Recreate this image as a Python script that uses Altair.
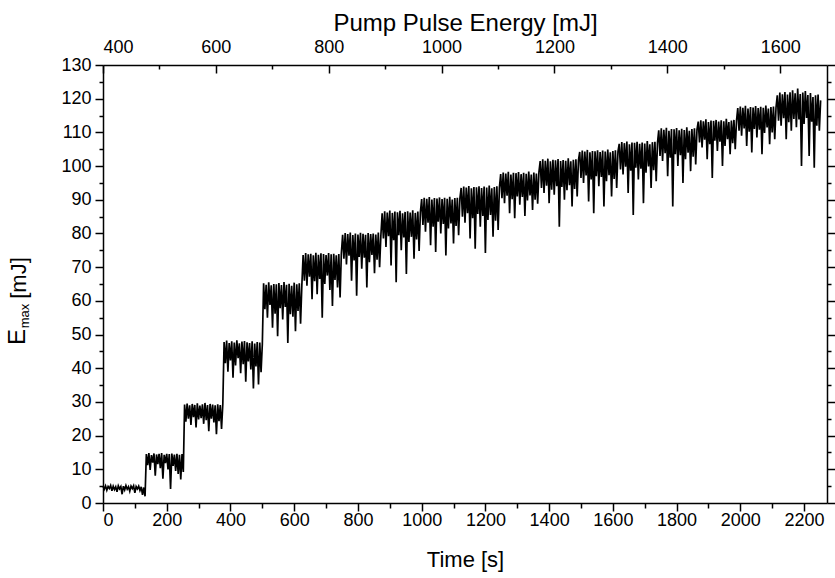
import altair as alt
import pandas as pd

# ---- data (E_max in mJ, one sample every 4 s) ----
SAMPLE_STEP_S = 4

step01 = [5.0,4.1,5.1,3.8,4.9,4.3,5.2,3.6,5.0,4.0,4.8,3.3,5.1,4.2,4.9,2.6,5.0,3.9,5.2,4.1,4.8,3.5,5.0,4.3,5.1,3.0,4.9,4.2,5.0,3.7,4.8,2.4,4.6]
step02 = [2.0,14.5,11.2,14.8,9.8,14.2,12.0,14.7,8.1,14.4,11.5,14.6,10.3,14.8,7.2,14.3,11.8,14.6,10.0,14.5,4.2,14.7,11.0,14.4,9.5,14.6,8.6,14.3,7.0,14.5,9.2]
step03 = [29.2,24.1,29.5,25.0,29.0,23.2,29.4,25.5,29.1,22.4,29.6,24.8,28.9,25.2,29.3,23.5,29.7,24.6,29.1,21.3,29.4,25.0,29.2,23.9,29.0,20.4,29.3,24.3,29.1,22.0,29.4]
step04 = [47.8,41.5,48.2,39.0,47.5,42.3,48.0,37.2,47.6,40.8,48.3,43.0,47.4,38.5,47.9,41.2,48.1,36.0,47.7,42.0,47.5,39.6,48.0,34.0,47.3,40.5,47.8,35.2,47.6,38.8,47.2]
step05 = [65.2,57.5,64.8,55.0,65.5,58.8,64.6,52.0,65.0,56.2,64.9,49.5,65.3,57.8,64.7,54.5,65.6,58.2,64.8,47.5,65.1,56.0,64.5,55.3,65.4,51.0,64.9,57.0,65.2,53.2,64.6]
step06 = [73.6,66.0,74.2,64.5,73.8,67.2,74.0,60.5,73.5,65.8,74.3,62.0,73.7,66.5,74.1,55.0,73.9,65.0,73.6,67.5,74.2,63.2,73.8,58.5,74.0,66.2,73.5,64.0,73.9,61.0,74.1]
step07 = [79.6,72.5,80.1,70.8,79.8,73.4,80.3,66.0,79.5,72.0,80.0,61.5,79.7,73.0,80.2,69.5,79.9,72.8,79.6,64.0,80.1,71.5,79.8,73.6,80.0,68.2,79.7,72.2,80.3,70.0,79.4]
step08 = [86.0,78.5,86.6,76.0,86.2,79.2,86.8,70.5,86.1,78.0,86.5,65.5,86.3,79.5,86.7,75.0,86.0,78.8,86.4,68.0,86.6,77.5,86.2,79.0,86.9,72.5,86.1,78.2,86.5,74.8,86.3]
step09 = [90.2,82.5,90.6,80.5,90.3,83.2,90.8,76.5,90.1,82.0,90.5,74.5,90.4,83.5,90.7,80.0,90.2,82.8,90.6,73.5,90.3,81.5,90.9,83.0,90.1,77.0,90.5,82.2,90.6,79.5,90.4]
step10 = [93.5,85.0,93.9,83.2,93.6,86.0,94.1,78.5,93.4,84.5,93.8,75.5,93.7,85.8,94.0,82.0,93.5,85.2,93.9,74.2,93.6,84.0,94.2,85.5,93.4,79.0,93.8,83.8,94.0,81.0,93.6]
step11 = [97.6,90.5,98.1,89.0,97.8,91.2,98.3,86.0,97.5,90.2,98.0,84.5,97.9,91.0,98.2,88.5,97.6,90.8,98.0,85.2,97.7,89.8,98.4,91.3,97.5,87.0,98.1,90.0,97.8,88.8,98.2]
step12 = [101.5,93.5,102.0,92.0,101.6,94.2,102.2,89.0,101.4,93.0,101.9,91.5,101.7,94.0,102.1,82.0,101.5,93.8,101.8,90.0,101.6,92.8,102.3,94.3,101.4,88.0,101.9,93.2,102.0,91.0,101.7]
step13 = [104.2,96.5,104.6,95.0,104.3,97.2,104.8,89.5,104.1,96.0,104.5,86.0,104.4,97.0,104.7,94.0,104.2,96.8,104.6,88.0,104.3,95.5,104.9,97.3,104.1,91.0,104.5,96.2,104.7,93.5,104.3]
step14 = [106.6,99.0,107.1,97.5,106.8,99.8,107.3,92.0,106.5,98.6,107.0,85.5,106.9,99.5,107.2,96.0,106.6,99.2,107.0,89.0,106.7,98.0,107.4,99.9,106.5,93.5,107.1,98.8,107.2,95.5,106.8]
step15 = [110.6,103.0,111.2,101.5,110.8,103.8,111.4,97.0,110.5,102.5,111.0,88.0,110.9,103.5,111.3,100.0,110.6,103.2,111.1,95.0,110.7,102.0,111.5,104.0,110.5,98.5,111.0,102.8,111.2,100.5,110.8]
step16 = [113.2,107.0,113.6,105.5,113.3,107.8,113.9,102.0,113.1,106.5,113.5,96.5,113.4,107.5,113.7,104.5,113.2,107.2,113.6,100.0,113.3,106.0,114.0,108.0,113.1,103.5,113.5,106.8,113.7,105.0,113.4]
step17 = [117.2,110.5,117.7,109.0,117.3,111.2,117.9,106.0,117.1,110.2,117.5,104.0,117.4,111.0,117.8,108.5,117.2,110.8,117.6,103.5,117.3,109.8,118.0,111.5,117.1,106.5,117.5,110.0,117.7,108.0,117.4]
step18 = [121.0,113.5,121.8,112.0,121.3,114.2,122.0,108.0,121.2,113.0,121.9,110.5,122.5,114.0,121.6,111.5,123.0,113.8,121.4,100.0,121.8,112.5,122.3,114.3,121.1,103.0,121.7,113.2,120.5,99.5,121.0,112.0,121.2,110.5,119.5]

steps = [step01, step02, step03, step04, step05, step06, step07, step08, step09,
         step10, step11, step12, step13, step14, step15, step16, step17, step18]

time_major = [0, 200, 400, 600, 800, 1000, 1200, 1400, 1600, 1800, 2000, 2200]
time_minor = [100, 300, 500, 700, 900, 1100, 1300, 1500, 1700, 1900, 2100]
y_major = [0, 10, 20, 30, 40, 50, 60, 70, 80, 90, 100, 110, 120, 130]
y_minor = [5, 15, 25, 35, 45, 55, 65, 75, 85, 95, 105, 115, 125]
energy_major = [400, 600, 800, 1000, 1200, 1400, 1600]
energy_minor = [500, 700, 900, 1100, 1300, 1500]

ylabel_parts = ["E", "max", "[mJ]"]

values = [v for s in steps for v in s]
df = pd.DataFrame({"t": [i * SAMPLE_STEP_S for i in range(len(values))], "E": values})
df_energy = pd.DataFrame({"energy": energy_major})

FONT = "Liberation Sans"
xs = alt.Scale(domain=[0, 2272], nice=False, zero=False)
ys = alt.Scale(domain=[0, 130], nice=False, zero=False)
es = alt.Scale(domain=[400, 1683], nice=False, zero=False)

base = alt.Chart(df)

line = base.mark_line(color="black", strokeWidth=1.7).encode(
    x=alt.X("t:Q", scale=xs, axis=alt.Axis(orient="bottom", values=time_major, format="d",
                                            tickSize=8, labelPadding=0, title="Time [s]",
                                            titlePadding=20)),
    y=alt.Y("E:Q", scale=ys, axis=alt.Axis(orient="left", values=y_major, format="d",
                                            tickSize=8, labelPadding=4, title=None)),
)

minor_bl = base.mark_point(opacity=0).encode(
    x=alt.X("t:Q", scale=xs, axis=alt.Axis(orient="bottom", values=time_minor, tickSize=5,
                                            labels=False, domain=False, title=None)),
    y=alt.Y("E:Q", scale=ys, axis=alt.Axis(orient="left", values=y_minor, tickSize=4,
                                            labels=False, domain=False, title=None)),
)

right_major = base.mark_point(opacity=0).encode(
    x=alt.X("t:Q", scale=xs, axis=None),
    y=alt.Y("E:Q", scale=ys, axis=alt.Axis(orient="right", values=y_major, tickSize=8,
                                            labels=False, title=None)),
)
right_minor = base.mark_point(opacity=0).encode(
    x=alt.X("t:Q", scale=xs, axis=None),
    y=alt.Y("E:Q", scale=ys, axis=alt.Axis(orient="right", values=y_minor, tickSize=4,
                                            labels=False, domain=False, title=None)),
)

top_major = alt.Chart(df_energy).mark_point(opacity=0).encode(
    x=alt.X("energy:Q", scale=es, axis=alt.Axis(orient="top", values=energy_major, format="d",
                                                 tickSize={"expr": "-8"}, labelPadding=17,
                                                 title="Pump Pulse Energy [mJ]", titleFontSize=24,
                                                 titlePadding=3)),
)
top_minor = alt.Chart(df_energy).mark_point(opacity=0).encode(
    x=alt.X("energy:Q", scale=es, axis=alt.Axis(orient="top", values=energy_minor,
                                                 tickSize={"expr": "-4"}, labels=False,
                                                 domain=False, title=None)),
)

one = pd.DataFrame({"k": [0]})
t_E = alt.Chart(one).mark_text(text=ylabel_parts[0], angle=270, fontSize=24, font=FONT,
                               align="center", baseline="middle", color="black").encode(
    x=alt.value(-85), y=alt.value(272))
t_max = alt.Chart(one).mark_text(text=ylabel_parts[1], angle=270, fontSize=13, font=FONT,
                                 align="center", baseline="middle", color="black").encode(
    x=alt.value(-78), y=alt.value(251))
t_mj = alt.Chart(one).mark_text(text=ylabel_parts[2], angle=270, fontSize=22, font=FONT,
                                align="center", baseline="middle", color="black").encode(
    x=alt.value(-84), y=alt.value(213))

chart = alt.layer(
    line, minor_bl, right_major, right_minor, top_major, top_minor, t_E, t_max, t_mj
).resolve_scale(x="independent").resolve_axis(x="independent", y="independent").properties(
    width=724, height=438,
    padding={"left": 103, "top": 65, "right": 8, "bottom": 75},
    autosize=alt.AutoSizeParams(type="none"),
    background="white",
).configure_view(stroke=None).configure_axis(
    labelFont=FONT, titleFont=FONT, labelFontSize=18, titleFontSize=22,
    titleFontWeight="normal", labelColor="black", titleColor="black",
    tickColor="black", domainColor="black", tickWidth=1.5, domainWidth=1.5, grid=False,
)

chart.save("out.html", embed_options={"renderer": "svg", "actions": False})
